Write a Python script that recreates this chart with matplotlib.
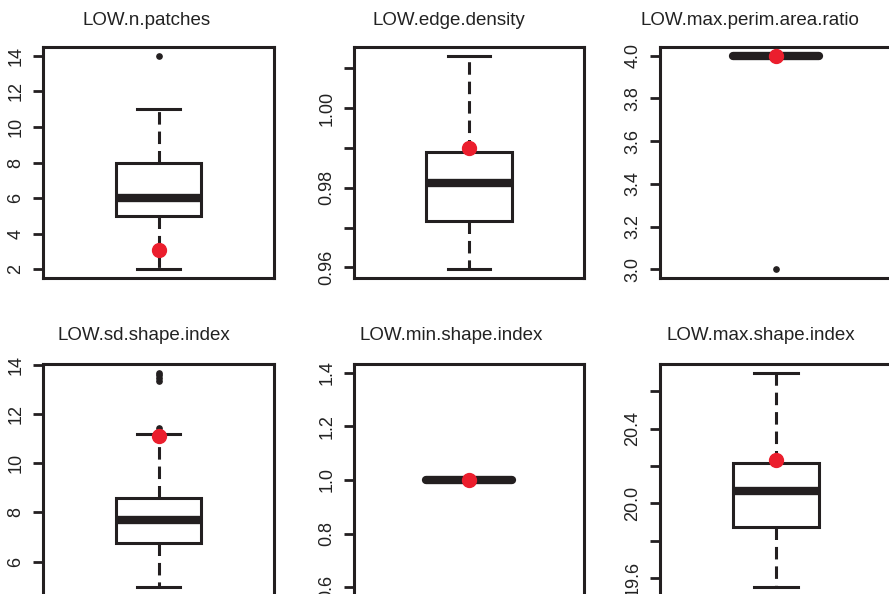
import numpy as np
import matplotlib
matplotlib.use("Agg")
import matplotlib.pyplot as plt

plt.rcParams["font.family"] = ["Liberation Sans", "DejaVu Sans"]
plt.rcParams["lines.scale_dashes"] = False

# box statistics
titles = ["LOW.n.patches", "LOW.edge.density", "LOW.max.perim.area.ratio",
          "LOW.sd.shape.index", "LOW.min.shape.index", "LOW.max.shape.index"]
whislo = [2, 0.9595, 4.0, 4.95, 1.0, 19.55]
q1 = [5, 0.9717, 4.0, 6.75, 1.0, 19.876]
med = [6, 0.9813, 4.0, 7.67, 1.0, 20.065]
q3 = [8, 0.9889, 4.0, 8.59, 1.0, 20.216]
whishi = [11, 1.0132, 4.0, 11.18, 1.0, 20.70]
fliers = [[14], [], [3.0], [11.42, 13.35, 13.45, 13.6, 13.68], [], []]
red_values = [3.1, 0.9899, 4.0, 11.12, 1.0, 20.23]

ytick_values = [
    [2, 4, 6, 8, 10, 12, 14],
    [0.96, 0.97, 0.98, 0.99, 1.00, 1.01],
    [3.0, 3.2, 3.4, 3.6, 3.8, 4.0],
    [6, 8, 10, 12, 14],
    [0.6, 0.8, 1.0, 1.2, 1.4],
    [19.6, 19.8, 20.0, 20.2, 20.4, 20.6],
]
ytick_labels = [
    ["2", "4", "6", "8", "10", "12", "14"],
    ["0.96", "", "0.98", "", "1.00", ""],
    ["3.0", "3.2", "3.4", "3.6", "3.8", "4.0"],
    ["6", "8", "10", "12", "14"],
    ["0.6", "0.8", "1.0", "1.2", "1.4"],
    ["19.6", "", "20.0", "", "20.4", ""],
]

W, H = 889, 594
INK = "#231f20"
RED = "#eb1e2d"

# frame positions in pixels
cols = [(43, 274), (354, 584), (660, 892)]
rows = [(47, 278), (364, 596)]
title_x = [146.5, 449, 749.5, 144, 451.5, 760.5]
title_y = [25, 25, 25, 340, 340, 340]

fig = plt.figure(figsize=(W / 100, H / 100), dpi=100)

for i in range(6):
    left, right = cols[i % 3]
    top, bottom = rows[i // 3]
    ax = fig.add_axes([left / W, 1 - bottom / H, (right - left) / W, (bottom - top) / H])

    stats = [dict(med=med[i], q1=q1[i], q3=q3[i], whislo=whislo[i],
                  whishi=whishi[i], fliers=fliers[i])]
    flat = q1[i] == q3[i]
    ax.bxp(stats, positions=[1], widths=0.372, capwidths=0.186,
           patch_artist=True,
           boxprops=dict(facecolor="white", edgecolor=INK, linewidth=2.2),
           medianprops=dict(color=INK, linewidth=6,
                            solid_capstyle="round" if flat else "butt"),
           whiskerprops=dict(color=INK, linewidth=2.2, linestyle=(0, (9, 5))),
           capprops=dict(color=INK, linewidth=2.2),
           flierprops=dict(marker="o", markersize=3.8, markerfacecolor=INK,
                           markeredgecolor=INK))
    ax.plot([1], [red_values[i]], "o", color=RED, markersize=10, zorder=5)

    vals = [whislo[i], whishi[i]] + fliers[i]
    lo, hi = min(vals), max(vals)
    if hi == lo:
        lo, hi = lo - 0.4 * abs(lo), hi + 0.4 * abs(hi)
    pad = 0.04 * (hi - lo)
    ax.set_ylim(lo - pad, hi + pad)
    ax.set_xlim(0.5, 1.5)

    ax.set_xticks([])
    ax.set_yticks(ytick_values[i])
    ax.set_yticklabels(ytick_labels[i])
    ax.tick_params(axis="y", length=7.5, width=2, color=INK, pad=6,
                   labelsize=13, labelrotation=90, labelcolor="#222222")
    plt.setp(ax.get_yticklabels(), va="center")
    for s in ax.spines.values():
        s.set_linewidth(2.2)
        s.set_color(INK)

    fig.text(title_x[i] / W, 1 - title_y[i] / H, titles[i], ha="center",
             va="baseline", fontsize=13.5, color="#222222")

fig.savefig("out.png", dpi=100)
